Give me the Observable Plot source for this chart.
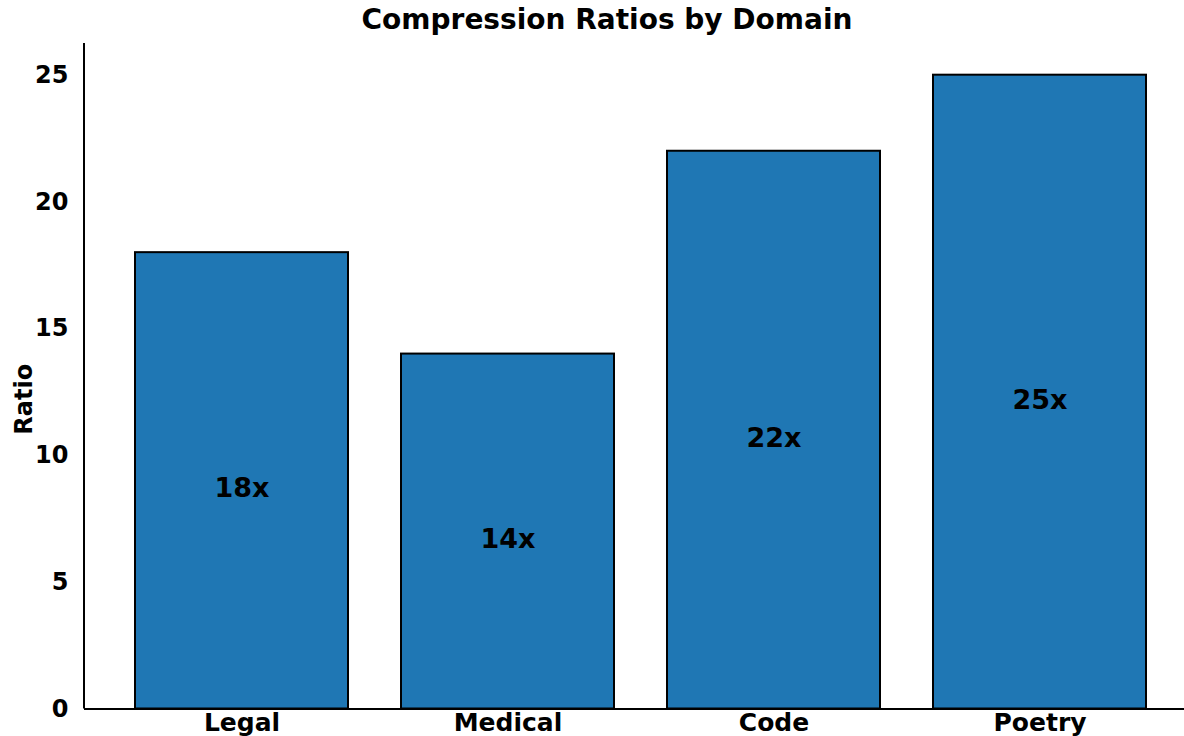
<!DOCTYPE html>
<html>
<head>
<meta charset="utf-8">
<script src="https://cdn.jsdelivr.net/npm/d3@7"></script>
<script src="https://cdn.jsdelivr.net/npm/@observablehq/plot@0.6"></script>
<style>
  html, body { margin: 0; padding: 0; background: #fff; }
  body { width: 1184px; height: 736px; overflow: hidden; font-family: "DejaVu Sans", sans-serif; }
  #title {
    height: 40px; line-height: 40px; text-align: center;
    font-weight: bold; font-size: 28px; color: #000;
    padding-left: 30px;
  }
  #chart svg { display: block; }
</style>
</head>
<body>
<div id="title">Compression Ratios by Domain</div>
<div id="chart"></div>
<script>
// Compression ratio per text domain
const domains = ["Legal", "Medical", "Code", "Poetry"];
const ratios = [18, 14, 22, 25];
const ratioLabels = ["18x", "14x", "22x", "25x"];
const yTicks = [0, 5, 10, 15, 20, 25];

const rows = domains.map((d, i) => ({domain: d, ratio: ratios[i], label: ratioLabels[i]}));
const yMax = d3.max(ratios) * 1.05;

const W = 1184, H = 696;
const chart = Plot.plot({
  width: W,
  height: H,
  marginLeft: 84,
  marginRight: 0,
  marginTop: 3,
  marginBottom: 27.5,
  style: {fontFamily: "DejaVu Sans, sans-serif", fontWeight: "bold", fontSize: "24px", color: "#000", background: "#fff"},
  x: {domain: domains, range: [80, 1200], padding: 0.2, label: null},
  y: {domain: [0, yMax], label: null},
  marks: [
    Plot.barY(rows, {x: "domain", y: "ratio", fill: "#1f77b4", stroke: "#000", strokeWidth: 2}),
    Plot.text(rows, {x: "domain", y: (d) => d.ratio / 2, text: "label", dy: 8, fontSize: 27, fontWeight: "bold", fill: "#000"}),
    Plot.axisY({ticks: yTicks, tickSize: 0, tickPadding: 16, fontSize: 24, label: null}),
    Plot.axisX({tickSize: 0, tickPadding: 4, fontSize: 25, label: null}),
    Plot.ruleY([0], {stroke: "#000", strokeWidth: 2}),
    Plot.text(["Ratio"], {frameAnchor: "left", textAnchor: "middle", rotate: -90, dx: -60, dy: 23, fontSize: 24, fontWeight: "bold", fill: "#000"})
  ]
});

// left spine of the value axis
const y = chart.scale("y");
d3.select(chart).append("line")
  .attr("x1", 84).attr("x2", 84)
  .attr("y1", y.apply(yMax)).attr("y2", y.apply(0))
  .attr("stroke", "#000").attr("stroke-width", 2);

document.getElementById("chart").appendChild(chart);
</script>
</body>
</html>
